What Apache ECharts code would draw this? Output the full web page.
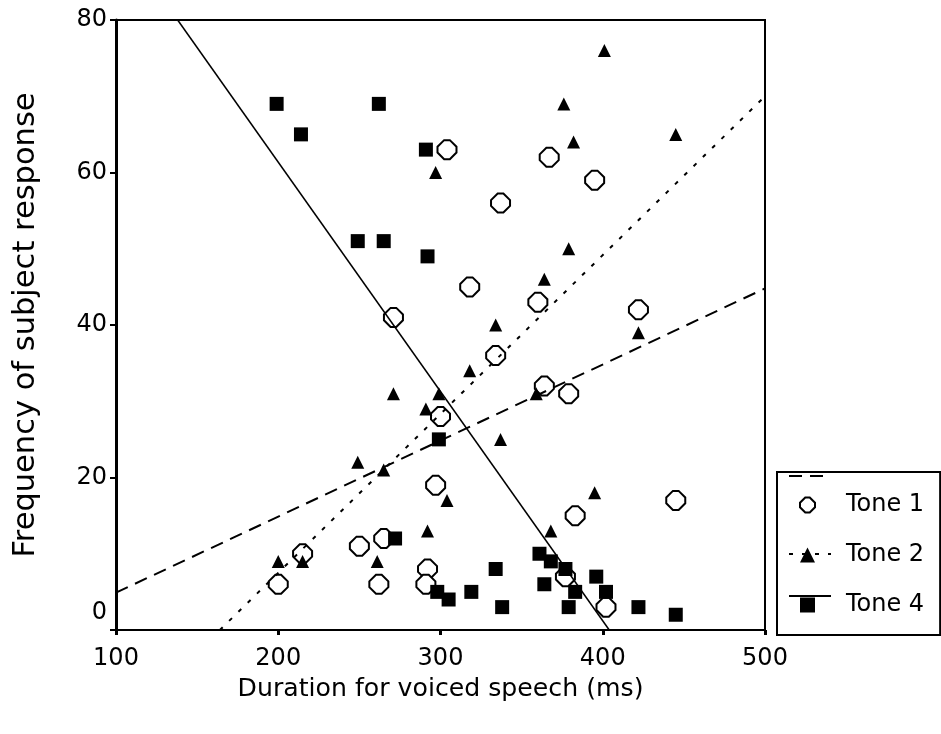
<!DOCTYPE html>
<html><head><meta charset="utf-8">
<script src="https://cdn.jsdelivr.net/npm/echarts@6/dist/echarts.min.js"></script>
<style>html,body{margin:0;padding:0;background:#fff}#c{width:941px;height:734px}</style>
</head><body><div id="c"></div>
<script>
const xTickLabels = [100, 200, 300, 400, 500];
const yTickLabels = [0, 20, 40, 60, 80];
const seriesNames = ['Tone 1', 'Tone 2', 'Tone 4'];
const fitNames = ['Tone 1 fit', 'Tone 2 fit', 'Tone 4 fit'];

// [duration (ms), frequency]
const tone1 = [[304,63],[337,56],[367,62],[395,59],[318,45],[271,41],[360,43],[422,42],[334,36],[364,32],[379,31],[300,28],[297,19],[445,17],[383,15],[265,12],[250,11],[215,10],[200,6],[262,6],[292,8],[291,6],[377,7],[402,3]];
const tone2 = [[401,76],[376,69],[382,64],[445,65],[379,50],[364,46],[297,60],[334,40],[422,39],[318,34],[271,31],[299,31],[291,29],[359,31],[337,25],[249,22],[265,21],[304,17],[395,18],[292,13],[368,13],[261,9],[215,9],[200,9]];
const tone4 = [[199,69],[262,69],[214,65],[291,63],[249,51],[265,51],[292,49],[299,25],[272,12],[298,5],[305,4],[319,5],[361,10],[368,9],[377,8],[396,7],[402,5],[334,8],[364,6],[383,5],[338,3],[379,3],[422,3],[445,2]];

// regression line end points
const fit1 = [[100,4.9],[500,44.8]];
const fit2 = [[164,0],[500,70]];
const fit4 = [[138,80],[404,0]];

const F = 'DejaVu Sans';
const octagon = 'path://M3.5,0 L6.5,0 L10,3.5 L10,6.5 L6.5,10 L3.5,10 L0,6.5 L0,3.5 Z';

const chart = echarts.init(document.getElementById('c'));
const lineLegend = (name, top) => ({
  data: [name], orient: 'vertical', left: 788, top: top, padding: 0,
  itemWidth: 42, itemHeight: 14, selectedMode: false, formatter: () => '',
  itemStyle: {color: 'rgba(0,0,0,0)', borderWidth: 0, opacity: 0},
  textStyle: {fontSize: 1}
});
const option = {
  backgroundColor: '#fff',
  animation: false,
  grid: {left: 116, right: 176, top: 20, bottom: 104, show: true, borderColor: '#000', borderWidth: 2, backgroundColor: 'transparent'},
  xAxis: {
    type: 'value', min: xTickLabels[0], max: xTickLabels[xTickLabels.length - 1], interval: xTickLabels[1] - xTickLabels[0],
    name: 'Duration for voiced speech (ms)', nameLocation: 'middle', nameGap: 47,
    nameTextStyle: {fontFamily: F, fontSize: 25.2, color: '#000'},
    axisLine: {show: true, lineStyle: {color: '#000', width: 2}},
    axisTick: {show: true, length: 5, lineStyle: {color: '#000', width: 3}},
    axisLabel: {margin: 17, fontFamily: F, fontSize: 24, color: '#000'},
    splitLine: {show: false}
  },
  yAxis: {
    type: 'value', min: yTickLabels[0], max: yTickLabels[yTickLabels.length - 1], interval: yTickLabels[1] - yTickLabels[0],
    name: 'Frequency of subject response', nameLocation: 'middle', nameGap: 74,
    nameTextStyle: {fontFamily: F, fontSize: 30.5, color: '#000'},
    axisLine: {show: true, lineStyle: {color: '#000', width: 3}},
    axisTick: {show: true, length: 6, lineStyle: {color: '#000', width: 2}},
    axisLabel: {
      margin: 9, fontFamily: F, fontSize: 24, color: '#000',
      formatter: v => v === 0 ? '{z|0}' : String(v),
      rich: {z: {fontFamily: F, fontSize: 24, color: '#000', padding: [0, 0, 34, 0]}}
    },
    splitLine: {show: false}
  },
  legend: [
    {
      data: seriesNames, orient: 'vertical', left: 777, top: 472,
      padding: [21, 16, 18, 22], itemGap: 26, itemWidth: 15, itemHeight: 15,
      borderColor: '#000', borderWidth: 2, selectedMode: false,
      textStyle: {fontFamily: F, fontSize: 24, color: '#000', padding: [0, 0, 0, 26]}
    },
    lineLegend(fitNames[0], 469),
    lineLegend(fitNames[1], 547),
    lineLegend(fitNames[2], 589)
  ],
  series: [
    {name: seriesNames[0], type: 'scatter', data: tone1, symbol: octagon, symbolSize: 19,
     itemStyle: {color: '#fff', borderColor: '#000', borderWidth: 2, opacity: 1}, z: 2},
    {name: seriesNames[1], type: 'scatter', data: tone2, symbol: 'triangle', symbolSize: 13,
     itemStyle: {color: '#000', opacity: 1}, z: 3},
    {name: seriesNames[2], type: 'scatter', data: tone4, symbol: 'rect', symbolSize: 14,
     itemStyle: {color: '#000', opacity: 1}, z: 4},
    {name: fitNames[0], type: 'line', data: fit1, symbol: 'none', z: 5,
     itemStyle: {color: '#000'},
     lineStyle: {color: '#000', width: 2, type: [13, 8]}},
    {name: fitNames[1], type: 'line', data: fit2, symbol: 'none', z: 5,
     itemStyle: {color: '#000'},
     lineStyle: {color: '#000', width: 2, type: [4, 9]}},
    {name: fitNames[2], type: 'line', data: fit4, symbol: 'none', z: 5,
     itemStyle: {color: '#000'},
     lineStyle: {color: '#000', width: 1.5, type: 'solid'}}
  ]
};
chart.setOption(option);
</script>
</body></html>
